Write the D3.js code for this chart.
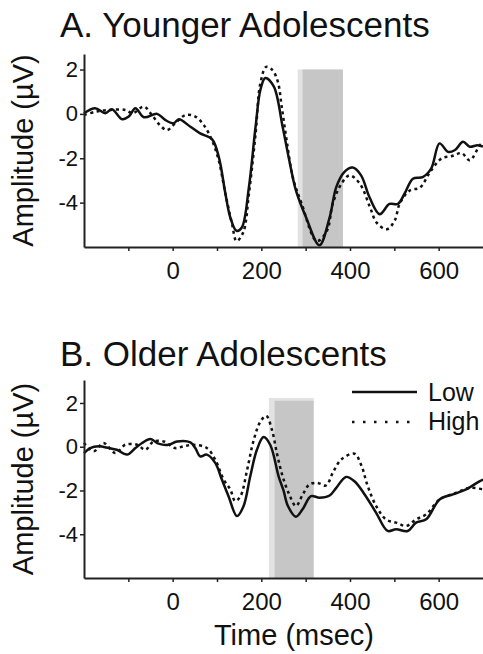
<!DOCTYPE html>
<html lang="en">
<head>
<meta charset="UTF-8">
<title>ERP Amplitude</title>
<script src="https://d3js.org/d3.v7.min.js"></script>
<style>
    body { margin: 0; background: #fff; }
    svg text { font-family: "Liberation Sans", Arial, sans-serif; fill: #111; }
    .axis path, .axis line { stroke: #222; }
    .axis path { stroke-width: 2; }
    .axis line { stroke-width: 1.5; }
</style>
</head>
<body>
<script>
    // time in msec, amplitude in microvolts
    const youngerLow = [[-200,0.03],[-175,0.26],[-152,0.03],[-137,0.21],[-114,-0.24],[-99,-0.12],[-84,0.26],[-65,-0.15],[-35,0],[-17,-0.27],[2,-0.42],[14,-0.24],[40,-0.58],[62,-0.88],[89,-1.15],[104,-1.94],[119,-3.6],[130,-4.67],[144,-5.27],[156,-5.12],[172,-3.3],[187,-0.58],[198,1.09],[209,1.62],[228,1.24],[248,-0.58],[263,-2.09],[278,-3.45],[301,-4.67],[331,-5.92],[354,-4.67],[369,-3.3],[387,-2.62],[406,-2.42],[425,-2.77],[444,-3.76],[467,-4.52],[489,-4.06],[508,-4.06],[523,-3.6],[542,-2.92],[564,-2.85],[583,-2.47],[602,-1.33],[621,-1.71],[636,-1.64],[655,-1.26],[670,-1.48],[688,-1.41],[700,-1.48]];
    const youngerHigh = [[-200,-0.05],[-171,0.11],[-140,0.18],[-107,0.18],[-90,0.03],[-65,0.33],[-47,-0.05],[-29,-0.5],[-13,-0.73],[6,-0.42],[29,-0.05],[51,-0.12],[70,-0.5],[89,-1.2],[104,-2.1],[119,-3.6],[134,-4.97],[144,-5.73],[159,-5.35],[172,-3.6],[187,-0.9],[198,1.4],[211,2.12],[224,2.0],[237,1.47],[246,0.32],[257,-1.18],[271,-2.86],[291,-4.05],[325,-5.73],[348,-5.27],[361,-4.05],[381,-3.14],[399,-2.77],[422,-3.14],[445,-4.2],[460,-4.9],[483,-5.2],[501,-4.8],[512,-4.05],[535,-3.45],[558,-3.32],[580,-2.64],[607,-2.0],[630,-1.9],[652,-1.77],[670,-2.09],[693,-1.41],[700,-1.3]];
    const olderLow = [[-200,-0.29],[-186,-0.06],[-167,0.02],[-144,-0.06],[-126,-0.14],[-103,-0.36],[-84,-0.06],[-69,0.17],[-50,0.35],[-32,0.14],[-9,0.09],[10,0.24],[40,0.2],[51,-0.06],[62,-0.44],[77,-0.36],[96,-0.74],[111,-1.5],[126,-2.26],[145,-3.17],[160,-2.71],[175,-1.35],[190,-0.14],[205,0.44],[220,0.09],[239,-1.35],[250,-2.0],[260,-2.71],[278,-3.2],[293,-2.86],[312,-2.26],[331,-2.33],[354,-2.23],[369,-1.88],[391,-1.38],[410,-1.58],[433,-2.18],[459,-3.02],[485,-3.85],[504,-3.77],[530,-3.85],[549,-3.47],[572,-3.32],[602,-2.41],[632,-2.18],[662,-1.95],[692,-1.58],[700,-1.5]];
    const olderHigh = [[-200,0.17],[-178,-0.21],[-156,0.17],[-129,-0.29],[-107,0.09],[-80,0.09],[-62,-0.14],[-43,0.24],[-20,0.24],[5,-0.06],[25,0.02],[47,0.09],[77,-0.06],[96,-0.59],[115,-1.5],[130,-1.95],[141,-2.48],[153,-2.26],[168,-1.05],[183,0.32],[198,1.15],[211,1.41],[224,0.77],[235,-0.29],[248,-1.35],[263,-2.18],[278,-2.71],[293,-2.2],[308,-1.73],[326,-1.65],[346,-1.77],[361,-1.2],[380,-0.59],[410,-0.32],[425,-0.82],[440,-1.8],[459,-2.71],[481,-3.32],[504,-3.47],[527,-3.62],[549,-3.32],[572,-3.09],[602,-2.41],[640,-2.1],[670,-1.88],[700,-1.95]];

    // shaded analysis windows: [light start, dark start, end]
    const youngerWindow = [282, 293, 384];
    const olderWindow = [217, 230, 318];

    const xTicks = [-100, 0, 100, 200, 300, 400, 500, 600];
    const yTicks = [2, 0, -2, -4];
    const legendLabels = ["Low", "High"];

    const svg = d3.select("body").append("svg")
        .attr("width", 483)
        .attr("height", 654);

    const x = d3.scaleLinear().domain([-200, 700]).range([84, 483]);

    function panel(title, titleY, yRange, yTop, low, high, win, winTop) {
        const y = d3.scaleLinear().domain([-6, yTop]).range(yRange);
        const g = svg.append("g");

        // shading
        g.append("rect")
            .attr("x", x(win[0])).attr("y", y(winTop[0]))
            .attr("width", x(win[2]) - x(win[0]))
            .attr("height", y(-6) - y(winTop[0]))
            .attr("fill", "#e2e2e2");
        g.append("rect")
            .attr("x", x(win[1])).attr("y", y(winTop[1]))
            .attr("width", x(win[2]) - x(win[1]))
            .attr("height", y(-6) - y(winTop[1]))
            .attr("fill", "#c6c6c6");

        const line = d3.line()
            .x(d => x(d[0]))
            .y(d => y(d[1]))
            .curve(d3.curveCatmullRom);

        g.append("path").datum(high)
            .attr("d", line)
            .attr("fill", "none")
            .attr("stroke", "#111")
            .attr("stroke-width", 2.5)
            .attr("stroke-dasharray", "3,3.5");

        g.append("path").datum(low)
            .attr("d", line)
            .attr("fill", "none")
            .attr("stroke", "#111")
            .attr("stroke-width", 2.5);

        g.append("g")
            .attr("class", "axis")
            .attr("transform", "translate(0," + y(-6) + ")")
            .call(d3.axisBottom(x).tickValues(xTicks).tickSize(4).tickSizeOuter(0)
                .tickFormat(d => d % 200 === 0 ? String(d) : ""))
            .selectAll("text")
            .attr("dy", "1.05em")
            .style("font-size", "24px");

        g.append("g")
            .attr("class", "axis")
            .attr("transform", "translate(84,0)")
            .call(d3.axisLeft(y).tickValues(yTicks).tickSize(4).tickSizeOuter(0)
                .tickFormat(d => String(d)))
            .selectAll("text")
            .attr("x", -6)
            .style("font-size", "22px");

        g.append("text")
            .attr("x", 60).attr("y", titleY)
            .style("font-size", "35px")
            .text(title);

        g.append("text")
            .attr("transform", "translate(33," + ((yRange[0] + yRange[1]) / 2) + ") rotate(-90)")
            .attr("text-anchor", "middle")
            .style("font-size", "29px")
            .text("Amplitude (\u00b5V)");

        return y;
    }

    panel("A. Younger Adolescents", 37, [247, 54], 2.7, youngerLow, youngerHigh, youngerWindow, [2.0, 2.0]);
    panel("B. Older Adolescents", 366, [578, 380], 3.05, olderLow, olderHigh, olderWindow, [2.23, 2.1]);

    // legend
    const legend = svg.append("g");
    legend.selectAll("line")
        .data(legendLabels)
        .enter()
        .append("line")
        .attr("x1", 352).attr("x2", 417)
        .attr("y1", (d, i) => 392 + i * 30)
        .attr("y2", (d, i) => 392 + i * 30)
        .attr("stroke", "#111")
        .attr("stroke-width", 2.5)
        .attr("stroke-dasharray", (d, i) => i === 0 ? null : "2.5,8.5");
    legend.selectAll("text")
        .data(legendLabels)
        .enter()
        .append("text")
        .attr("x", 428)
        .attr("y", (d, i) => 401 + i * 29)
        .style("font-size", "25px")
        .text(d => d);

    svg.append("text")
        .attr("x", 294).attr("y", 645)
        .attr("text-anchor", "middle")
        .style("font-size", "29px")
        .text("Time (msec)");
</script>
</body>
</html>
